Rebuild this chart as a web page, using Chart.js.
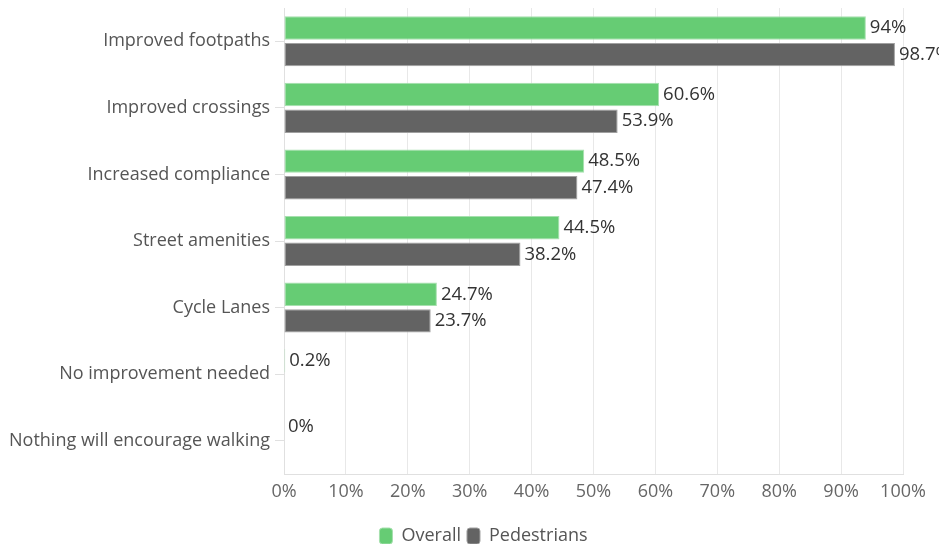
<!DOCTYPE html>
<html>
<head>
<meta charset="utf-8">
<script src="https://cdn.jsdelivr.net/npm/chart.js@4.4.1/dist/chart.umd.min.js"></script>
<style>
  html, body { margin: 0; padding: 0; background: #fff; }
  #wrap { width: 939px; height: 544px; position: relative; }
</style>
</head>
<body>
<div id="wrap"><canvas id="chart"></canvas></div>
<script>
// what would encourage more walking (% of respondents)
const categories = [
    'Improved footpaths',
    'Improved crossings',
    'Increased compliance',
    'Street amenities',
    'Cycle Lanes',
    'No improvement needed',
    'Nothing will encourage walking'
];
const overallValues = [94, 60.6, 48.5, 44.5, 24.7, 0.2, 0];
const pedestrianValues = [98.7, 53.9, 47.4, 38.2, 23.7, 0, null];
const xTicks = [0, 10, 20, 30, 40, 50, 60, 70, 80, 90, 100];

const FONT = '"Open Sans", sans-serif';

// writes the value next to the end of each bar
const valueLabels = {
    id: 'valueLabels',
    afterDatasetsDraw(chart) {
        const ctx = chart.ctx;
        ctx.save();
        ctx.font = '500 18.5px ' + FONT;
        ctx.fillStyle = '#333';
        ctx.textBaseline = 'middle';
        ctx.textAlign = 'left';
        chart.data.datasets.forEach((ds, i) => {
            const meta = chart.getDatasetMeta(i);
            meta.data.forEach((bar, j) => {
                const v = ds.data[j];
                if (v === null || v === undefined) return;
                if (v === 0 && i === 1) return;
                let y = bar.y;
                // the empty last row shows its single 0% on the middle line
                if (j === categories.length - 1) y = chart.scales.y.getPixelForValue(j) - 14;
                ctx.fillText(v + '%', bar.x + 4, y);
            });
        });
        ctx.restore();
    }
};

// nudge the legend a bit right of the canvas centre
const legendShift = {
    id: 'legendShift',
    afterLayout(chart) {
        chart.legend.left += 32;
        chart.legend.right += 32;
    }
};

new Chart(document.getElementById('chart'), {
    type: 'bar',
    data: {
        labels: categories,
        datasets: [
            {
                label: 'Overall',
                data: overallValues,
                backgroundColor: '#66cc74',
                borderColor: '#a6e0ae',
                borderWidth: 1,
                borderSkipped: false
            },
            {
                label: 'Pedestrians',
                data: pedestrianValues,
                backgroundColor: '#636363',
                borderColor: '#a0a0a0',
                borderWidth: 1,
                borderSkipped: false
            }
        ]
    },
    options: {
        indexAxis: 'y',
        responsive: true,
        maintainAspectRatio: false,
        animation: false,
        categoryPercentage: 0.8,
        barPercentage: 0.88,
        layout: { padding: { top: 8, right: 36, bottom: -11, left: 0 } },
        plugins: {
            legend: {
                position: 'bottom',
                labels: {
                    useBorderRadius: true,
                    borderRadius: 3,
                    boxWidth: 13,
                    boxHeight: 16,
                    padding: 6,
                    color: '#555',
                    font: { family: FONT, size: 18 }
                }
            },
            tooltip: { enabled: false }
        },
        scales: {
            x: {
                min: 0,
                max: 100,
                afterBuildTicks: axis => { axis.ticks = xTicks.map(v => ({ value: v })); },
                afterFit: axis => { axis.height = 47; },
                grid: { color: '#e8e8e8', drawTicks: false },
                border: { color: '#e0e0e0' },
                ticks: {
                    color: '#666',
                    padding: 7,
                    font: { family: FONT, size: 18 },
                    callback: v => v + '%'
                }
            },
            y: {
                afterFit: axis => {
                    axis.width = 284;
                    axis.paddingTop = 0;
                    axis.paddingBottom = 0;
                },
                grid: { drawOnChartArea: false, offset: false, tickLength: 9, color: '#e0e0e0' },
                border: { color: '#e0e0e0' },
                ticks: {
                    color: '#555',
                    padding: 5,
                    font: { family: FONT, size: 18 }
                }
            }
        }
    },
    plugins: [valueLabels, legendShift]
});
</script>
</body>
</html>
